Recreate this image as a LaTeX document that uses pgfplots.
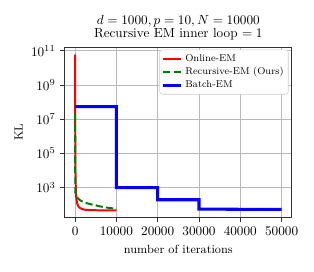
\documentclass[border=0pt]{standalone}
\usepackage{pgfplots}
\pgfplotsset{compat=1.18}
\begin{document}
\begin{tikzpicture}
\begin{axis}[
  scale only axis,
  width=172pt, height=129pt,
  xmin=-2500, xmax=52500,
  ymode=log, ymin=18, ymax=1.66e11,
  xtick={0,10000,20000,30000,40000,50000},
  ytick={1e3,1e5,1e7,1e9,1e11},
  minor ytick={},
  scaled x ticks=false,
  xticklabel style={/pgf/number format/set thousands separator={}, /pgf/number format/fixed},
  tick align=outside,
  major tick length=3.5pt,
  xtick pos=bottom, ytick pos=left,
  grid=major,
  major grid style={gray!55, line width=0.6pt},
  axis line style={black!80, line width=0.7pt},
  every tick/.style={black!80, line width=0.6pt},
  title={$d=1000, p=10, N=10000$\\Recursive EM inner loop $=1$},
  title style={align=center, font=\fontsize{10}{9.5}\selectfont},
  every axis title shift=2pt,
  xlabel={number of iterations},
  ylabel={KL},
  xlabel style={font=\small, at={(axis description cs:0.5,0)}, anchor=base, yshift=-27pt},
  ylabel style={font=\small, at={(axis description cs:-0.203,0.5)}, anchor=center},
  legend cell align=left,
  legend style={at={(rel axis cs:0.985,0.985)}, anchor=north east, font=\fontsize{7.5}{8.5}\selectfont,
    draw=black!20, rounded corners=2pt, fill=white, inner sep=1.5pt, row sep=-1pt},
  legend image code/.code={\draw[#1] (0pt,0pt) -- (13.6pt,0pt);},
]
\addplot[red, line width=1.5pt] coordinates {
(0,6e10) (20,1e8) (50,1e6) (100,1e4) (200,600) (300,250) (500,120) (800,80)
(1200,65) (1800,55) (2500,50) (4000,48) (6000,47) (8000,46.5) (10000,46)};
\addlegendentry{Online-EM}
\addplot[green!50!black, line width=1.5pt, dash pattern=on 5.5pt off 2.4pt] coordinates {
(0,2e7) (20,1e5) (50,3000) (100,500) (200,350) (400,290) (700,240) (1000,200)
(1500,165) (2000,145) (3000,120) (4000,103) (5000,92) (6000,80) (7000,72)
(8000,66) (9000,62) (10000,59)};
\addlegendentry{Recursive-EM (Ours)}
\addplot[blue, line width=2.3pt] coordinates {
(0,5.5e7) (10000,5.5e7) (10000,1000) (20000,1000) (20000,195) (30000,195) (30000,55) (50000,53)};
\addlegendentry{Batch-EM}
\end{axis}
\path (-49pt,-41pt) rectangle (188.7pt,164.6pt);
\end{tikzpicture}
\end{document}
